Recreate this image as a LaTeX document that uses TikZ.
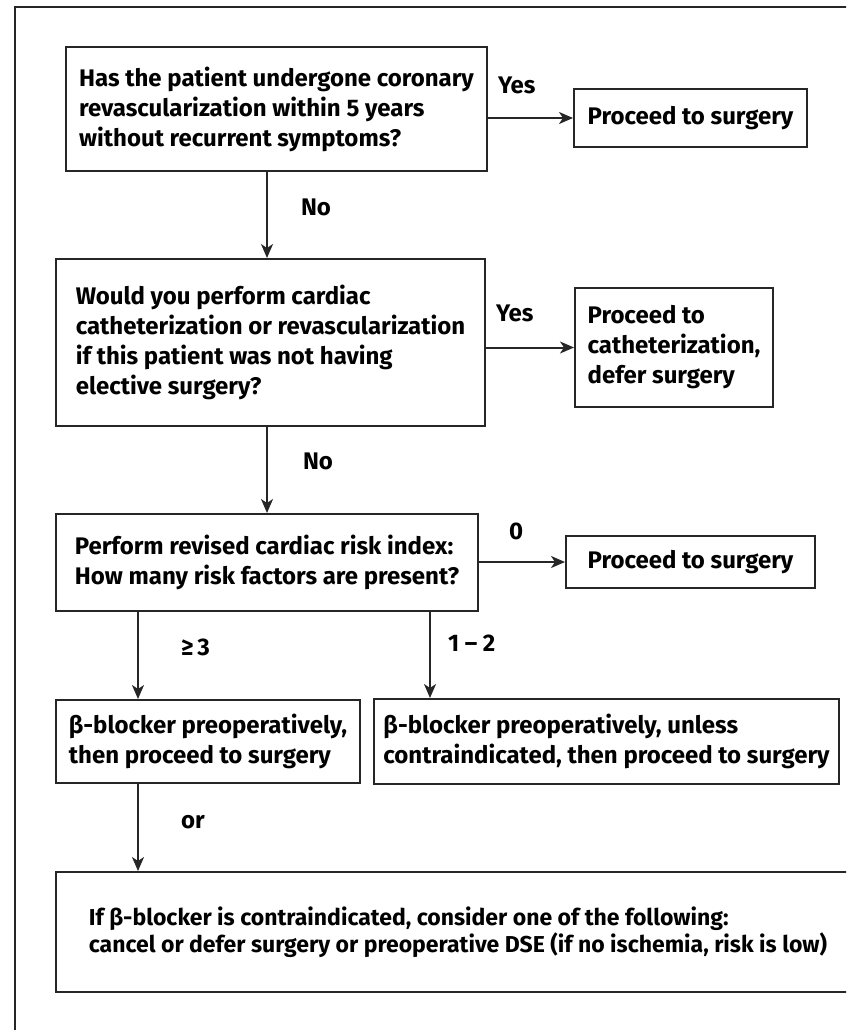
\documentclass[tikz,border=0pt]{standalone}
\usepackage{fontspec}
\setmainfont{Fira Sans}
\usetikzlibrary{arrows.meta, positioning}
\usepackage{xcolor}
\def\txtsize{\fontsize{24}{30}\selectfont\bfseries}

\begin{document}
\begin{tikzpicture}[x=1pt,y=-1pt,->,>={Stealth[length=14pt,width=12pt,inset=4pt]},line width=2pt,draw=black!85]
    \tikzstyle{box}=[draw, rectangle, align=left, font=\txtsize, inner sep=0pt]
    \tikzstyle{lbl}=[anchor=west, inner sep=0pt, font=\txtsize]

    \useasboundingbox (0,0) rectangle (846,1030);
    \clip (0,0) rectangle (846,1030);

    % Outer frame, only top and left edge are in view
    \draw[-] (15,1040) |- (860,7);

    % Questions in the left column
    \node[box, minimum width=421pt, minimum height=124pt] (Q-1) at (276.5,109)
        {Has the patient undergone coronary\\revascularization within 5 years\\without recurrent symptoms?};
    \node[box, minimum width=429pt, minimum height=167pt] (Q-2) at (270.5,342.5)
        {Would you perform cardiac\\catheterization or revascularization\\if this patient was not having\\elective surgery?};
    \node[box, minimum width=422pt, minimum height=97pt] (Q-3) at (267,562.5)
        {Perform revised cardiac risk index:\\How many risk factors are present?};

    % Answers on the right
    \node[box, minimum width=233pt, minimum height=58pt] (A-1) at (690.5,118) {Proceed to surgery};
    \node[box, minimum width=198pt, minimum height=119pt] (A-2) at (674,347.5)
        {Proceed to\\catheterization,\\defer surgery};
    \node[box, minimum width=249pt, minimum height=52pt] (A-3) at (690.5,562) {Proceed to surgery};

    % Beta-blocker boxes
    \node[box, minimum width=304pt, minimum height=83pt] (B-1) at (208,741.5)
        {β-blocker preoperatively,\\then proceed to surgery};
    \node[box, minimum width=465pt, minimum height=85pt] (B-2) at (606.5,741.5)
        {β-blocker preoperatively, unless\\contraindicated, then proceed to surgery};
    \node[box, minimum width=804pt, minimum height=120pt, font=\fontsize{23}{27}\selectfont\bfseries] (B-3) at (458,932)
        {If β-blocker is contraindicated, consider one of the following:\\cancel or defer surgery or preoperative DSE (if no ischemia, risk is low)};

    % Connect the questions
    \draw (Q-1.east |- A-1.west) -- (A-1.west);
    \draw (Q-3.north |- Q-1.south) -- (Q-3.north |- Q-2.north);
    \draw (Q-2.east |- A-2.west) -- (A-2.west);
    \draw (Q-3.north |- Q-2.south) -- (Q-3.north);
    \draw (Q-3.east |- A-3.west) -- (A-3.west);

    % Risk factor branches
    \coordinate (hi) at ([xshift=83pt]B-1.north west);
    \coordinate (mid) at ([xshift=57pt]B-2.north west);
    \draw (hi |- Q-3.south) -- (hi);
    \draw (mid |- Q-3.south) -- (mid);
    \draw (B-1.south -| hi) -- (B-3.north -| hi);

    % Annotate the connectors
    \node[lbl] (Y-1) at (497,85) {Yes};
    \node[lbl] (N-1) at (300,207) {No};
    \node[lbl] (Y-2) at (495,313) {Yes};
    \node[lbl] (N-2) at (302,461) {No};
    \node[lbl] (L-0) at (508,531) {0};
    \node[lbl] (L-3) at (180,647) {≥\,3};
    \node[lbl] (L-12) at (447,643) {1 – 2};
    \node[lbl] (L-or) at (180,822) {or};
\end{tikzpicture}
\end{document}
